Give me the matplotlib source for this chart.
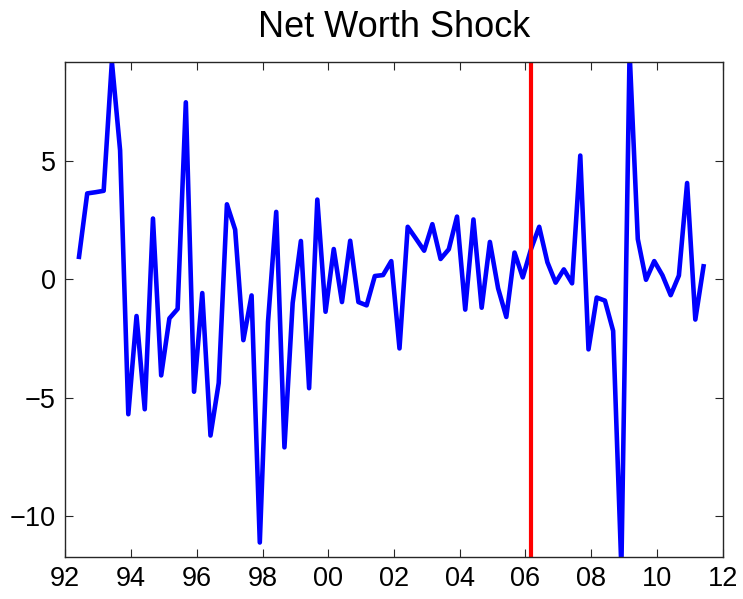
import matplotlib
matplotlib.use("Agg")
import matplotlib.pyplot as plt
import numpy as np

# Quarterly observations starting mid-1992
start_year = 1992 + 5 / 12
shock = [
    0.95, 3.63, 3.68, 3.74, 9.2, 5.45, -5.7, -1.55, -5.49, 2.57,
    -4.06, -1.65, -1.25, 7.48, -4.75, -0.58, -6.6, -4.38, 3.17, 2.1,
    -2.57, -0.68, -11.12, -1.8, 2.85, -7.1, -1.0, 1.62, -4.6, 3.37,
    -1.37, 1.28, -0.96, 1.63, -0.96, -1.1, 0.14, 0.18, 0.77, -2.92,
    2.22, 1.72, 1.21, 2.33, 0.86, 1.27, 2.65, -1.28, 2.53, -1.2,
    1.58, -0.38, -1.59, 1.13, 0.08, 1.27, 2.22, 0.72, -0.14, 0.42,
    -0.17, 5.23, -2.96, -0.77, -0.9, -2.18, -12.2, 9.6, 1.7, -0.02,
    0.77, 0.17, -0.67, 0.16, 4.07, -1.7, 0.55,
]
dates = start_year + 0.25 * np.arange(len(shock))
break_date = 2006 + 2 / 12

x_ticks = list(range(1992, 2013, 2))
x_tick_labels = ["92", "94", "96", "98", "00", "02", "04", "06", "08", "10", "12"]
y_ticks = [-10, -5, 0, 5]

plt.rcParams["font.family"] = ["Liberation Sans", "DejaVu Sans"]

fig = plt.figure(figsize=(7.43, 5.99), dpi=100)
ax = fig.add_axes([0.0879, 0.0706, 0.9727 - 0.0879, 0.896 - 0.0706])

ax.plot(dates, shock, color="#0000ff", lw=3.3, solid_joinstyle="round")
ax.axvline(break_date, color="#ff0000", lw=3.0)

ax.set_xlim(1992, 2012)
ax.set_ylim(-11.72, 9.17)
ax.set_xticks(x_ticks)
ax.set_xticklabels(x_tick_labels)
ax.set_yticks(y_ticks)
ax.tick_params(direction="in", length=6, width=0.8, color="#262626",
               labelsize=19.5, top=True, right=True, pad=7)
for s in ax.spines.values():
    s.set_linewidth(1.0)
    s.set_color("#262626")

ax.set_title("Net Worth Shock", fontsize=26, pad=18)

fig.savefig("out.png", dpi=100)
